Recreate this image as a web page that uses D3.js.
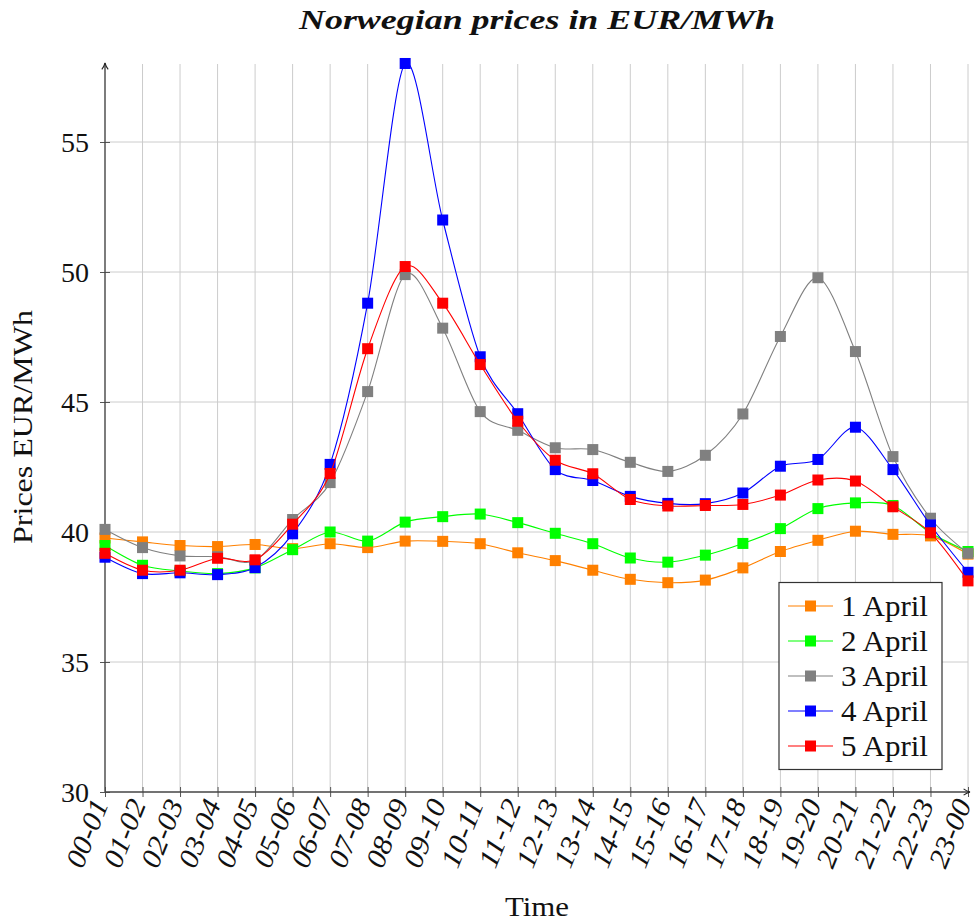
<!DOCTYPE html>
<html>
<head>
<meta charset="utf-8">
<script src="https://cdn.jsdelivr.net/npm/d3@7"></script>
<style>
  html, body { margin: 0; padding: 0; background: #fff; }
  svg { display: block; }
  text { font-family: "Liberation Serif", "Times New Roman", "DejaVu Serif", serif; }
</style>
</head>
<body>
<svg id="chart" width="974" height="923"></svg>
<script>
const categories = ["00-01","01-02","02-03","03-04","04-05","05-06","06-07","07-08","08-09","09-10","10-11","11-12",
  "12-13","13-14","14-15","15-16","16-17","17-18","18-19","19-20","20-21","21-22","22-23","23-00"];

const april1 = [39.77, 39.62, 39.48, 39.44, 39.52, 39.36, 39.55, 39.40, 39.65, 39.64, 39.55, 39.20,
  38.90, 38.53, 38.18, 38.05, 38.15, 38.62, 39.25, 39.68, 40.03, 39.91, 39.85, 39.15];
const april2 = [39.48, 38.72, 38.50, 38.40, 38.62, 39.32, 40.00, 39.65, 40.38, 40.59, 40.69, 40.36,
  39.95, 39.55, 39.00, 38.84, 39.11, 39.56, 40.13, 40.90, 41.12, 41.02, 39.97, 39.25];
const april3 = [40.10, 39.40, 39.08, 39.05, 38.90, 40.48, 41.90, 45.40, 49.90, 47.84, 44.63, 43.91,
  43.24, 43.17, 42.68, 42.33, 42.95, 44.54, 47.52, 49.78, 46.94, 42.90, 40.53, 39.18];
const april4 = [39.03, 38.40, 38.43, 38.36, 38.63, 39.93, 42.60, 48.80, 58.02, 52.00, 46.74, 44.55,
  42.40, 41.98, 41.37, 41.10, 41.09, 41.50, 42.53, 42.79, 44.03, 42.40, 40.27, 38.45];
const april5 = [39.18, 38.53, 38.53, 38.99, 38.93, 40.30, 42.25, 47.05, 50.21, 48.80, 46.44, 44.26,
  42.76, 42.24, 41.25, 41.00, 41.02, 41.06, 41.42, 42.00, 41.96, 40.97, 39.97, 38.12];

const seriesNames = ["1 April", "2 April", "3 April", "4 April", "5 April"];
const seriesColors = ["#ff8000", "#00ff00", "#808080", "#0000ff", "#ff0000"];
const seriesValues = [april1, april2, april3, april4, april5];
const yTicks = [30, 35, 40, 45, 50, 55];

const title = "Norwegian prices in EUR/MWh";
const xTitle = "Time";
const yTitle = "Prices EUR/MWh";

const FONT = "'Liberation Serif', 'Times New Roman', serif";
const svg = d3.select("#chart");
const pLeft = 105, pRight = 968, pTop = 64, pBottom = 792;

const x = d3.scalePoint().domain(categories).range([pLeft, pRight]);
const y = d3.scaleLinear().domain([30, 58]).range([pBottom, pTop]);

// grid
const grid = svg.append("g");
grid.selectAll("line.v").data(categories).join("line")
  .attr("x1", d => x(d)).attr("x2", d => x(d))
  .attr("y1", pBottom).attr("y2", pTop)
  .attr("stroke", "#cccccc").attr("stroke-width", 1);
grid.selectAll("line.h").data(yTicks.filter(t => t > 30)).join("line")
  .attr("x1", pLeft).attr("x2", pRight)
  .attr("y1", d => y(d)).attr("y2", d => y(d))
  .attr("stroke", "#cccccc").attr("stroke-width", 1);

// axes via d3
const xAxis = d3.axisBottom(x).tickSize(5).tickFormat("");
const gx = svg.append("g").attr("transform", `translate(0,${pBottom})`).call(xAxis);
gx.select(".domain").remove();
gx.selectAll(".tick line").attr("y1", -5).attr("y2", 5).attr("stroke", "#555");

const yAxis = d3.axisLeft(y).tickValues(yTicks).tickSize(5).tickFormat("");
const gy = svg.append("g").attr("transform", `translate(${pLeft},0)`).call(yAxis);
gy.select(".domain").remove();
gy.selectAll(".tick line").attr("x1", -5).attr("x2", 5).attr("stroke", "#555");

// axis lines with arrows
const defs = svg.append("defs");
defs.append("marker").attr("id", "arrow").attr("viewBox", "0 0 10 10")
  .attr("refX", 9).attr("refY", 5).attr("markerWidth", 8).attr("markerHeight", 8)
  .attr("markerUnits", "userSpaceOnUse").attr("orient", "auto")
  .append("path").attr("d", "M1,1 Q5,4 9,5 Q5,6 1,9").attr("fill", "none")
  .attr("stroke", "#222").attr("stroke-width", 1.3);
svg.append("line").attr("x1", pLeft).attr("x2", pLeft).attr("y1", pBottom).attr("y2", pTop - 1)
  .attr("stroke", "#444").attr("stroke-width", 1.3).attr("marker-end", "url(#arrow)");
svg.append("line").attr("x1", pLeft).attr("x2", pRight + 2).attr("y1", pBottom).attr("y2", pBottom)
  .attr("stroke", "#444").attr("stroke-width", 1.3).attr("marker-end", "url(#arrow)");

// y tick labels
svg.append("g").selectAll("text").data(yTicks).join("text")
  .attr("x", 89).attr("y", d => y(d)).attr("dy", "0.34em")
  .attr("text-anchor", "end").attr("font-family", FONT).attr("font-size", 28).attr("fill", "#111")
  .text(d => d);

// x tick labels
svg.append("g").selectAll("text").data(categories).join("text")
  .attr("transform", d => `translate(${x(d) + 4},${pBottom + 12}) rotate(-68)`)
  .attr("text-anchor", "end").attr("font-family", FONT).attr("font-size", 28)
  .attr("font-style", "italic").attr("fill", "#111")
  .attr("textLength", 71).attr("lengthAdjust", "spacingAndGlyphs")
  .text(d => d);

// series
const line = d3.line().x((d, i) => x(categories[i])).y(d => y(d)).curve(d3.curveCardinal.tension(0.1));
const ms = 11;
seriesValues.forEach((vals, si) => {
  const g = svg.append("g");
  g.append("path").attr("d", line(vals)).attr("fill", "none")
    .attr("stroke", seriesColors[si]).attr("stroke-width", 1.1);
  g.selectAll("rect").data(vals).join("rect")
    .attr("x", (d, i) => x(categories[i]) - ms / 2).attr("y", d => y(d) - ms / 2)
    .attr("width", ms).attr("height", ms).attr("fill", seriesColors[si]);
});

// title & axis titles
svg.append("text").attr("x", 537).attr("y", 29).attr("text-anchor", "middle")
  .attr("font-family", FONT).attr("font-size", 27).attr("font-weight", "bold").attr("font-style", "italic")
  .attr("fill", "#111").attr("textLength", 476).attr("lengthAdjust", "spacingAndGlyphs")
  .text(title);
svg.append("text").attr("x", 537).attr("y", 916).attr("text-anchor", "middle")
  .attr("font-family", FONT).attr("font-size", 28).attr("fill", "#111")
  .attr("textLength", 64).attr("lengthAdjust", "spacingAndGlyphs").text(xTitle);
svg.append("text").attr("transform", "translate(32,427) rotate(-90)").attr("text-anchor", "middle")
  .attr("font-family", FONT).attr("font-size", 28).attr("fill", "#111")
  .attr("textLength", 234).attr("lengthAdjust", "spacingAndGlyphs").text(yTitle);

// legend
const lg = svg.append("g");
lg.append("rect").attr("x", 779).attr("y", 582.5).attr("width", 163).attr("height", 187)
  .attr("fill", "#fff").attr("stroke", "#333").attr("stroke-width", 1.2);
const ly = d3.scalePoint().domain(seriesNames).range([606, 746]);
seriesNames.forEach((name, si) => {
  const yy = ly(name);
  lg.append("line").attr("x1", 788).attr("x2", 833).attr("y1", yy).attr("y2", yy)
    .attr("stroke", seriesColors[si]).attr("stroke-width", 1.1);
  lg.append("rect").attr("x", 810.5 - ms / 2).attr("y", yy - ms / 2).attr("width", ms).attr("height", ms)
    .attr("fill", seriesColors[si]);
  lg.append("text").attr("x", 841).attr("y", yy).attr("dy", "0.34em")
    .attr("font-family", FONT).attr("font-size", 29).attr("fill", "#111")
    .attr("textLength", 87).attr("lengthAdjust", "spacingAndGlyphs").text(name);
});
</script>
</body>
</html>
